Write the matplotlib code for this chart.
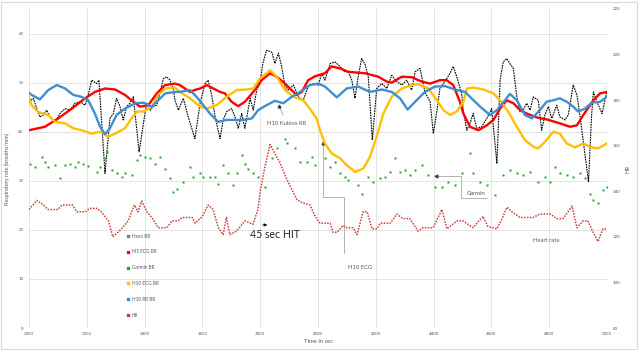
import matplotlib
matplotlib.use("Agg")
import matplotlib.pyplot as plt
import numpy as np
from matplotlib.lines import Line2D
from matplotlib.patches import Rectangle

plt.rcParams['font.family'] = ['Lato', 'DejaVu Sans']

# Hexo BR (black, left axis)
hexo_t = [3000, 3015, 3027, 3038, 3049, 3061, 3073, 3090, 3107, 3125, 3142, 3159, 3176, 3194,
          3205, 3217, 3234, 3242, 3263, 3280, 3292, 3303, 3315, 3326, 3338, 3349, 3361, 3381,
          3396, 3407, 3419, 3430, 3442, 3453, 3465, 3476, 3488, 3499, 3505, 3517, 3534, 3551,
          3574, 3592, 3609, 3620, 3632, 3644, 3661, 3672, 3684, 3701, 3713, 3724, 3736, 3747,
          3765, 3776, 3788, 3799, 3809, 3822, 3840, 3851, 3863, 3874, 3886, 3897, 3915, 3932,
          3949, 3966, 3984, 4001, 4013, 4024, 4042, 4059, 4076, 4093, 4105, 4117, 4128, 4139,
          4151, 4163, 4174, 4188, 4197, 4203, 4221, 4238, 4255, 4273, 4290, 4307, 4324, 4336,
          4353, 4370, 4388, 4399, 4411, 4422, 4439, 4457, 4468, 4480, 4497, 4503, 4515, 4526,
          4537, 4549, 4566, 4584, 4601, 4619, 4630, 4641, 4653, 4664, 4676, 4688, 4699, 4710,
          4722, 4734, 4745, 4762, 4774, 4785, 4797, 4809, 4826, 4837, 4855, 4866, 4883, 4896,
          4907, 4936, 4947, 4953, 4965, 4983, 4999]
hexo_v = [46.1, 46.8, 44.7, 43.0, 43.4, 44.4, 43.0, 42.0, 43.7, 44.7, 44.4, 45.8, 46.1, 45.4,
          47.5, 50.5, 49.8, 50.5, 31.5, 42.7, 43.7, 46.8, 45.1, 42.4, 45.1, 45.8, 47.1, 35.9,
          41.7, 45.8, 44.4, 45.1, 45.4, 47.8, 50.8, 51.2, 50.5, 48.8, 46.4, 44.4, 46.8, 43.0,
          38.6, 45.8, 49.8, 50.5, 47.5, 43.0, 38.6, 42.4, 44.1, 44.7, 43.0, 40.7, 43.7, 40.7,
          46.8, 44.4, 48.5, 49.8, 53.9, 56.6, 56.2, 53.9, 56.0, 53.3, 49.2, 48.5, 49.5, 47.1,
          46.4, 49.2, 49.8, 49.5, 51.9, 50.5, 53.9, 54.2, 53.3, 52.2, 52.2, 50.5, 46.8, 51.2,
          54.9, 53.7, 51.2, 38.3, 44.7, 48.8, 49.8, 48.8, 51.5, 50.2, 49.5, 50.5, 48.5, 52.2,
          52.9, 48.1, 46.1, 39.6, 44.1, 48.8, 50.2, 51.9, 53.3, 51.2, 47.8, 44.1, 40.3, 41.7,
          43.7, 40.7, 41.0, 42.7, 44.7, 33.5, 50.5, 54.2, 54.9, 53.9, 52.9, 47.1, 44.1, 44.4,
          45.8, 44.4, 47.1, 46.4, 40.3, 43.4, 45.1, 42.7, 45.4, 43.0, 42.4, 43.4, 49.5, 47.5,
          43.0, 29.8, 43.7, 48.1, 46.1, 43.7, 48.1]

# MS ECG BR (red, left axis)
ms_t = [3000, 3055, 3101, 3148, 3194, 3228, 3263, 3298, 3332, 3355, 3384, 3413, 3442, 3471,
        3505, 3522, 3557, 3574, 3592, 3615, 3638, 3661, 3678, 3701, 3724, 3747, 3776, 3805,
        3834, 3857, 3886, 3908, 3926, 3944, 3966, 3990, 4024, 4047, 4076, 4105, 4163, 4209,
        4238, 4255, 4290, 4324, 4359, 4388, 4422, 4445, 4468, 4491, 4503, 4526, 4555, 4584,
        4607, 4630, 4653, 4676, 4699, 4722, 4757, 4791, 4837, 4872, 4896, 4918, 4953, 4976, 4999]
ms_v = [40.3, 41.0, 42.7, 44.7, 46.8, 48.1, 48.8, 48.6, 47.5, 46.4, 45.1, 45.4, 47.8, 49.5,
        49.8, 49.5, 48.1, 48.5, 48.8, 49.5, 48.8, 48.1, 47.8, 46.1, 45.2, 46.1, 48.1, 50.5,
        51.9, 51.2, 49.8, 48.5, 47.5, 48.1, 50.5, 51.3, 51.9, 53.3, 52.9, 52.2, 51.9, 51.2,
        50.2, 50.0, 51.2, 51.1, 50.2, 49.8, 50.5, 50.5, 49.5, 46.1, 43.7, 41.0, 40.3, 41.3,
        42.4, 44.7, 46.4, 45.8, 44.4, 43.7, 42.9, 42.5, 41.7, 41.0, 41.3, 43.4, 46.4, 47.8, 48.1]

# H10 ECG BR (orange, left axis)
ecg_t = [3000, 3009, 3032, 3067, 3090, 3125, 3153, 3182, 3217, 3246, 3274, 3298, 3332, 3355,
         3373, 3396, 3425, 3447, 3471, 3505, 3522, 3557, 3592, 3615, 3649, 3684, 3719, 3753,
         3776, 3799, 3834, 3857, 3886, 3915, 3949, 3972, 3995, 4007, 4024, 4047, 4076, 4099,
         4128, 4157, 4180, 4203, 4226, 4255, 4290, 4324, 4347, 4382, 4411, 4434, 4457, 4480,
         4503, 4515, 4537, 4572, 4607, 4630, 4658, 4688, 4716, 4746, 4762, 4785, 4814, 4837,
         4861, 4889, 4918, 4947, 4970, 4999]
ecg_v = [47.0, 45.4, 44.0, 43.4, 42.0, 41.7, 40.7, 40.3, 39.6, 40.0, 39.0, 39.6, 40.7, 42.7,
         44.1, 44.1, 45.1, 47.5, 48.8, 49.0, 48.1, 46.8, 45.1, 44.7, 45.4, 47.1, 48.5, 48.6,
         48.8, 50.8, 52.5, 51.2, 48.5, 47.1, 46.4, 44.7, 42.7, 40.3, 37.6, 35.6, 34.6, 33.2,
         31.8, 32.5, 34.9, 39.0, 43.7, 47.1, 48.8, 49.5, 49.7, 48.8, 46.4, 44.4, 43.4, 44.1,
         46.1, 48.8, 49.0, 48.6, 47.8, 46.4, 44.1, 41.0, 38.3, 36.9, 36.6, 37.9, 40.0, 39.6,
         37.6, 36.8, 37.6, 36.8, 36.6, 37.6]

# H10 RR BR (blue, left axis)
rr_t = [3000, 3009, 3038, 3067, 3096, 3125, 3153, 3182, 3205, 3228, 3246, 3263, 3280, 3303,
        3332, 3367, 3396, 3425, 3447, 3471, 3505, 3522, 3557, 3580, 3603, 3626, 3655, 3684,
        3713, 3742, 3771, 3793, 3822, 3851, 3880, 3909, 3938, 3972, 4001, 4024, 4065, 4099,
        4139, 4180, 4221, 4255, 4284, 4310, 4336, 4370, 4405, 4439, 4474, 4509, 4526, 4561,
        4595, 4619, 4647, 4664, 4688, 4716, 4740, 4768, 4791, 4814, 4837, 4861, 4883, 4900,
        4924, 4947, 4976, 4999]
rr_v = [47.9, 47.5, 46.6, 48.5, 49.5, 48.8, 47.5, 47.1, 46.4, 43.7, 41.0, 39.5, 40.7, 43.4,
        44.7, 45.8, 45.9, 45.1, 46.4, 47.8, 48.1, 48.1, 48.5, 47.1, 45.4, 43.7, 42.0, 42.4,
        42.4, 42.4, 42.7, 44.4, 45.4, 46.3, 45.8, 47.1, 48.1, 49.5, 49.8, 49.2, 47.0, 48.8,
        49.2, 48.1, 48.6, 48.1, 46.8, 44.5, 46.1, 48.1, 49.2, 49.3, 48.6, 48.1, 47.1, 45.1,
        43.4, 44.4, 46.4, 47.7, 46.4, 43.4, 42.7, 44.4, 46.1, 46.4, 46.8, 46.1, 45.1, 44.1,
        44.7, 45.9, 46.1, 47.1]

# Garmin BR (green markers, left axis)
garmin_t = [3003, 3021, 3044, 3055, 3067, 3090, 3107, 3125, 3142, 3159, 3171, 3188, 3205, 3234,
            3246, 3263, 3269, 3286, 3303, 3321, 3332, 3355, 3373, 3384, 3401, 3419, 3436, 3453,
            3471, 3488, 3499, 3511, 3534, 3557, 3569, 3592, 3603, 3626, 3644, 3655, 3672, 3690,
            3707, 3719, 3736, 3747, 3759, 3776, 3793, 3817, 3840, 3857, 3886, 3892, 3920, 3938,
            3961, 3978, 3990, 4024, 4042, 4059, 4076, 4093, 4105, 4139, 4151, 4174, 4191, 4215,
            4232, 4249, 4266, 4284, 4301, 4318, 4336, 4359, 4382, 4405, 4428, 4451, 4474, 4497,
            4526, 4537, 4561, 4584, 4612, 4641, 4664, 4688, 4710, 4734, 4762, 4785, 4803, 4820,
            4837, 4861, 4883, 4906, 4924, 4941, 4953, 4970, 4987, 4999]
garmin_v = [33.5, 32.9, 34.9, 33.9, 32.9, 33.2, 30.5, 33.2, 33.5, 32.9, 33.9, 33.5, 33.0, 31.8,
            32.9, 34.6, 35.9, 32.2, 31.5, 30.8, 31.5, 31.2, 34.2, 35.2, 34.9, 34.6, 33.5, 34.9,
            32.5, 30.5, 27.8, 28.4, 29.8, 32.9, 30.8, 31.5, 30.8, 30.8, 30.8, 29.4, 33.2, 31.5,
            29.1, 31.5, 35.2, 33.5, 32.5, 31.5, 30.8, 28.8, 34.6, 36.6, 38.6, 37.6, 36.6, 33.9,
            33.9, 34.9, 33.2, 34.6, 32.9, 33.9, 31.5, 30.8, 30.1, 29.1, 27.4, 30.8, 29.8, 30.5,
            30.8, 31.8, 34.6, 31.8, 32.2, 31.2, 32.2, 33.2, 31.2, 28.8, 28.8, 29.8, 29.1, 31.5,
            35.6, 31.5, 29.8, 29.1, 27.1, 31.2, 32.2, 31.5, 31.2, 31.8, 29.8, 30.8, 29.8, 32.9,
            31.5, 31.2, 30.8, 31.5, 30.5, 27.4, 26.1, 25.4, 28.1, 28.8]

# HR (right axis)
hr_t = [3000, 3027, 3050, 3065, 3100, 3115, 3150, 3165, 3195, 3210, 3235, 3250, 3275, 3290,
        3320, 3343, 3365, 3377, 3390, 3408, 3425, 3447, 3477, 3495, 3515, 3530, 3565, 3575,
        3600, 3620, 3637, 3655, 3672, 3683, 3695, 3718, 3747, 3775, 3792, 3800, 3815, 3834,
        3845, 3868, 3893, 3927, 3945, 3972, 3990, 4007, 4042, 4052, 4066, 4087, 4100, 4121,
        4135, 4156, 4170, 4187, 4204, 4215, 4250, 4273, 4294, 4318, 4346, 4363, 4398, 4429,
        4446, 4481, 4502, 4536, 4571, 4588, 4619, 4637, 4654, 4671, 4699, 4744, 4768, 4803,
        4827, 4848, 4865, 4879, 4896, 4917, 4934, 4952, 4969, 4986, 5000]
hr_v = [132, 136, 134, 132, 132, 134, 134, 131, 131, 132.5, 132.5, 131, 127, 120,
        123.5, 127, 134, 131, 135.7, 131, 128.5, 124, 124, 127, 127, 128.5, 128.5, 126,
        129, 134, 132, 124, 121, 128.5, 121, 122.5, 127, 125.5, 132, 140, 150, 160.5,
        158, 152.6, 145, 136.4, 135, 134, 129, 126, 126, 122, 122, 125, 124, 124,
        121, 131, 131, 123.5, 123.5, 126, 126, 130, 128, 128, 122.5, 124, 124, 132,
        123.5, 127, 127, 124, 129, 124.6, 123.5, 128, 133, 131, 128.5, 128.5, 130, 130,
        128, 128, 131, 133.5, 124, 127, 127, 122, 118, 123.5, 123.5]

x_ticks = list(range(3000, 5001, 200))
left_ticks = list(range(0, 61, 10))
right_ticks = list(range(80, 221, 20))

RED = '#FF0000'
ORANGE = '#FFC000'
BLUE = '#3E8ED0'
GREEN = '#1FA81F'
HRCOL = '#CC3B3B'
GRAY_TXT = '#595959'
LEAD = '#A6A6A6'

fig = plt.figure(figsize=(6.39, 3.5), dpi=100)
ax = fig.add_axes([29 / 639, 22 / 350, 578 / 639, 319 / 350])
ax2 = ax.twinx()

ax.plot(hexo_t, hexo_v, color='black', lw=0.8, ls=(0, (1.5, 0.8)), zorder=3)
ax.plot(ms_t, ms_v, color=RED, lw=1.7, zorder=4)
ax.plot(ecg_t, ecg_v, color=ORANGE, lw=1.7, zorder=4)
ax.plot(rr_t, rr_v, color=BLUE, lw=1.7, zorder=5)
ax.plot(garmin_t, garmin_v, ls='none', marker='s', ms=2.1, mec='none', color=GREEN, zorder=3)
ax2.plot(hr_t, hr_v, color=HRCOL, lw=1.1, ls=(0, (1, 0.9)))

ax.set_xlim(3000, 5000)
ax.set_ylim(0, 65)
ax2.set_ylim(80, 220)
ax.set_xticks(x_ticks)
ax.set_yticks(left_ticks)
ax2.set_yticks(right_ticks)
ax.grid(True, color='#E3E3E3', lw=0.7)
ax.set_axisbelow(True)
for a in (ax, ax2):
    for s in a.spines.values():
        s.set_visible(False)
    a.tick_params(length=0, labelsize=3.2, labelcolor=GRAY_TXT, pad=4)
ax.tick_params(axis='x', pad=3)

ax.set_xlabel('Time in sec', fontsize=4.2, color=GRAY_TXT, labelpad=2)
ax.set_ylabel('Respiratory rate (breaths/min)', fontsize=4.0, color=GRAY_TXT, labelpad=6)
ax2.set_ylabel('HR', fontsize=4.2, color=GRAY_TXT, labelpad=4)

# annotations
ax.annotate('', xy=(3834, 21.0), xytext=(3799, 21.0),
            arrowprops=dict(arrowstyle='-|>', color='black', lw=0.6, mutation_scale=4))
ax.text(3765, 19.0, '45 sec HIT', fontsize=7.6, va='center', ha='left', color='#262626')

ax.plot([3879, 3865], [43.4, 45.2], color=LEAD, lw=0.6)
ax.plot([3865], [45.2], marker='^', ms=2, color='#404040')
ax.text(3893, 41.75, 'H10 Kubios RR', fontsize=4.2, color=GRAY_TXT, ha='center', va='center')

ax.plot([4017, 4017, 4090, 4090], [37.7, 26.7, 26.7, 15.3], color=LEAD, lw=0.6)
ax.plot([4017], [37.7], marker='^', ms=2, color='#404040')
ax.text(4145, 12.4, 'H10 ECG', fontsize=4.2, color=GRAY_TXT, ha='center', va='center')

ax.plot([4408, 4495, 4495, 4585], [31.0, 31.0, 26.5, 26.5], color=LEAD, lw=0.6)
ax.plot([4408], [31.0], marker='<', ms=2, color='#404040')
ax.text(4547, 27.4, 'Garmin', fontsize=4.2, color=GRAY_TXT, ha='center', va='center')

ax.text(4789, 17.8, 'Heart rate', fontsize=4.2, color=GRAY_TXT, ha='center', va='center')

handles = [
    Line2D([], [], ls='none', marker='s', ms=1.5, color='#7F7F7F', label='Hexo BR'),
    Line2D([], [], ls='none', marker='s', ms=1.5, color=RED, label='MS ECG BR'),
    Line2D([], [], ls='none', marker='s', ms=1.5, color=GREEN, label='Garmin BR'),
    Line2D([], [], ls='none', marker='s', ms=1.5, color=ORANGE, label='H10 ECG BR'),
    Line2D([], [], ls='none', marker='s', ms=1.5, color=BLUE, label='H10 RR BR'),
    Line2D([], [], ls='none', marker='s', ms=1.5, color=HRCOL, label='HR'),
]
leg = ax2.legend(handles=handles, loc='upper left', bbox_to_anchor=(0.165, 0.302),
                 frameon=False, fontsize=3.4, labelspacing=2.3, handlelength=0.6,
                 handletextpad=0.6, borderaxespad=0)
for t in leg.get_texts():
    t.set_color(GRAY_TXT)

fig.patches.append(Rectangle((0.002, 0.004), 0.995, 0.99, transform=fig.transFigure,
                             fill=False, edgecolor='#D9D9D9', lw=0.8))

fig.savefig('out.png', dpi=100)
